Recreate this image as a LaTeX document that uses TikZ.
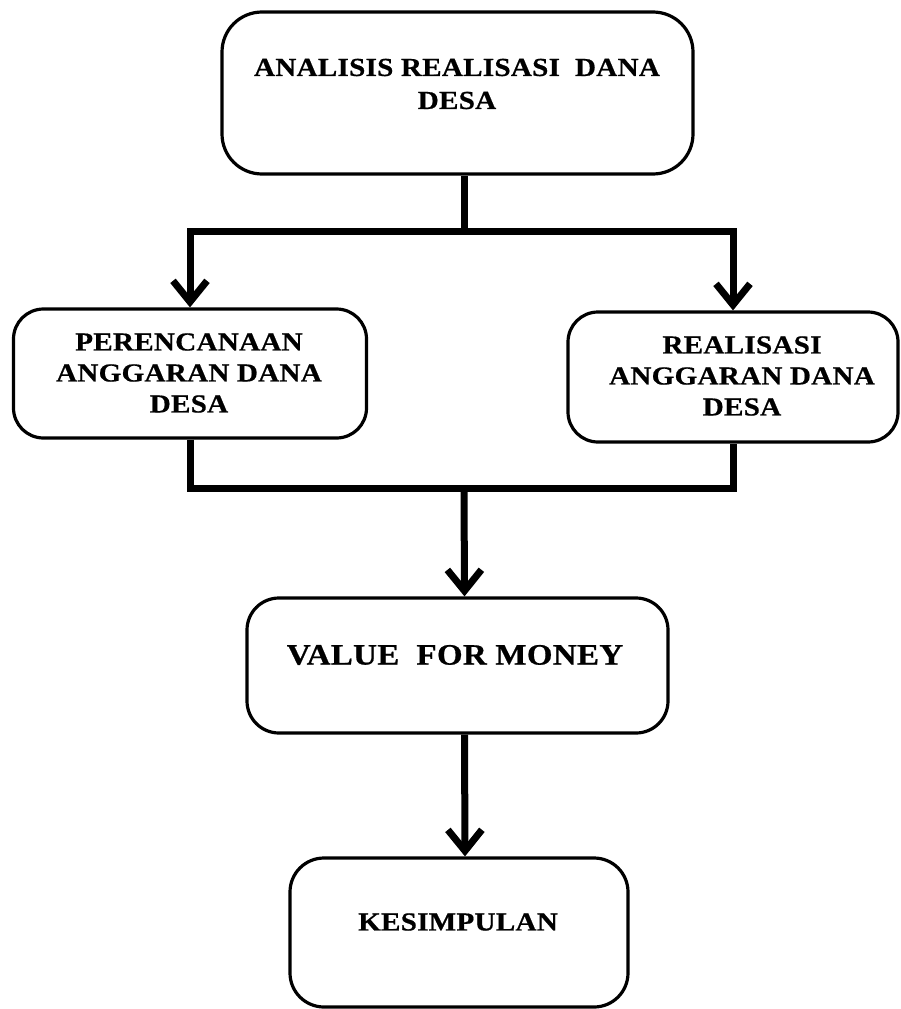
\documentclass[tikz,border=0pt]{standalone}
\usepackage{fontspec}
\setmainfont{Liberation Serif}
\newfontfamily\lblfont[FakeStretch=1.12, FakeBold=0.6, LetterSpace=1]{Liberation Serif}
\usetikzlibrary{arrows.meta}
\begin{document}
\begin{tikzpicture}[x=1pt,y=1pt,
  boxshape/.style={draw, line width=3.2pt, rounded corners=#1, inner sep=0pt},
  conn/.style={line width=7pt},
  arr/.style={conn, -{Straight Barb[length=21pt,width=34pt]}},
  lbl/.style={align=center, inner sep=0pt, font=\lblfont\bfseries\fontsize{26}{31}\selectfont}
]
\useasboundingbox (0,0) rectangle (901,-1009);
% boxes
\node[boxshape=40pt, minimum width=471pt, minimum height=162pt] (b1) at (457.5,-93) {};
\node[boxshape=30pt, minimum width=353pt, minimum height=129pt] (b2) at (190,-373.5) {};
\node[boxshape=30pt, minimum width=330pt, minimum height=130pt] (b3) at (733,-377) {};
\node[boxshape=32pt, minimum width=421pt, minimum height=135pt] (b4) at (457.5,-665.5) {};
\node[boxshape=34pt, minimum width=338pt, minimum height=149pt] (b5) at (459,-932.5) {};
% texts
\node[lbl, font=\lblfont\bfseries\fontsize{26}{33}\selectfont] (t1) at (457,-84) {ANALISIS REALISASI\ \ DANA\\DESA};
\node[lbl] (t2) at (189,-373) {PERENCANAAN\\ANGGARAN DANA\\DESA};
\node[lbl] (t3) at (742,-376) {REALISASI\\ANGGARAN DANA\\DESA};
\node[lbl, font=\lblfont\bfseries\fontsize{29.5}{34}\selectfont] (t4) at (455,-655) {VALUE\ \ FOR MONEY};
\node[lbl, font=\lblfont\bfseries\fontsize{26}{30}\selectfont] (t5) at (458,-922) {KESIMPULAN};
% junction points
\coordinate (ts) at (464,-231);
\coordinate (jl) at (190,-488);
\coordinate (jr) at (733,-488);
\coordinate (jm) at (464,-488);
% connectors
\draw[conn] ([xshift=6.5pt]b1.south) -- (ts);
\draw[arr] (ts) -| (b2.north);
\draw[arr] (ts) -| (b3.north);
\draw[conn] (b2.south) -- (jl) -- (jr) -- (b3.south);
\draw[arr] (jm) -- ([xshift=7pt]b4.north);
\draw[arr] ([xshift=7pt]b4.south) -- ([xshift=6pt]b5.north);
\end{tikzpicture}
\end{document}
